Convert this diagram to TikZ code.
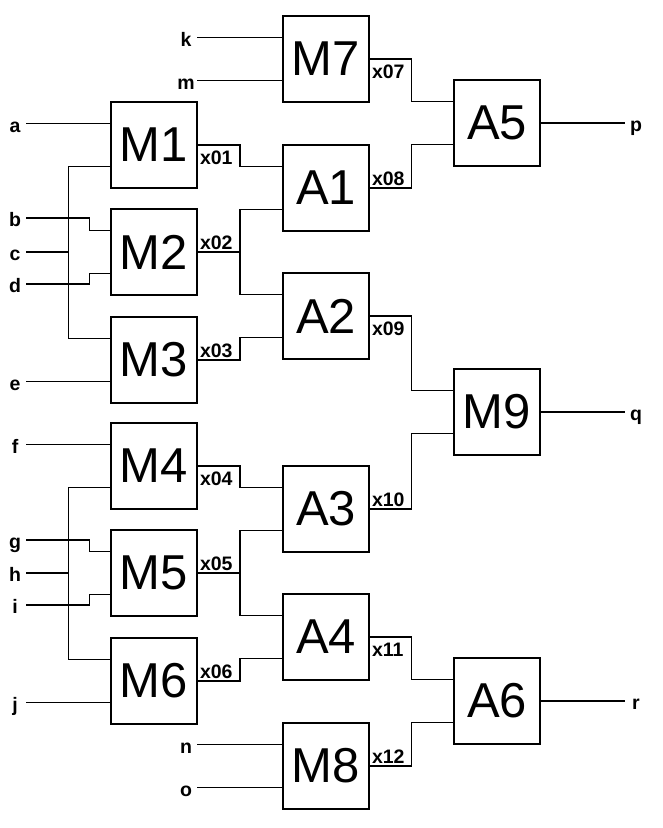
\documentclass[tikz,border=0pt]{standalone}
\usepackage{fontspec}
\setmainfont{Liberation Sans}
\newfontfamily\labfont{Liberation Sans Bold}
\usetikzlibrary{calc}
\tikzset{
  box/.style={draw, line width=1.3pt, minimum width=86pt, minimum height=86pt, inner sep=0pt, outer sep=0pt, anchor=north west, font=\fontsize{49}{49}\selectfont},
  wire/.style={line width=1.3pt},
  inlab/.style={font=\labfont\fontsize{19.5}{20}\selectfont, minimum width=22pt, inner sep=0pt, outer sep=0pt, text height=17pt, text depth=0pt},
  xlab/.style={font=\labfont\fontsize{19.5}{20}\selectfont, inner sep=0pt, outer sep=0pt},
  below lab/.style={xlab, anchor=base west},
}
\begin{document}
\begin{tikzpicture}[x=1pt, y=-1pt]
\fill[white] (0,0) rectangle (663,828);
\useasboundingbox (0,0) rectangle (663,828);
% boxes
\node[box] (M1) at (111,102) {M1};
\node[box] (M2) at (111,209) {M2};
\node[box] (M3) at (111,317) {M3};
\node[box] (M4) at (111,423) {M4};
\node[box] (M5) at (111,530) {M5};
\node[box] (M6) at (111,638) {M6};
\node[box] (M7) at (283,16) {M7};
\node[box] (A1) at (283,145) {A1};
\node[box] (A2) at (283,273) {A2};
\node[box] (A3) at (283,466) {A3};
\node[box] (A4) at (283,594) {A4};
\node[box] (M8) at (283,723) {M8};
\node[box] (A5) at (454,80) {A5};
\node[box] (M9) at (454,369) {M9};
\node[box] (A6) at (454,658) {A6};
\foreach \n in {M1,M2,M3,M4,M5,M6,M7,M8,M9,A1,A2,A3,A4,A5,A6}{
  \coordinate (\n-i1) at ($(\n.north west)!.25!(\n.south west)$);
  \coordinate (\n-i2) at ($(\n.north west)!.75!(\n.south west)$);
}
% input labels
\node[inlab] (a) at (15,123.5) {a};
\node[inlab] (b) at (15,218) {b};
\node[inlab] (c) at (15,252) {c};
\node[inlab] (d) at (15,284) {d};
\node[inlab] (e) at (15,381.5) {e};
\node[inlab] (f) at (15,444.5) {f};
\node[inlab] (g) at (15,540) {g};
\node[inlab] (h) at (15,573) {h};
\node[inlab] (i) at (15,605) {i};
\node[inlab] (j) at (15,702.5) {j};
\node[inlab] (k) at (186,37.5) {k};
\node[inlab] (m) at (186,80.5) {m};
\node[inlab] (n) at (186,744.5) {n};
\node[inlab] (o) at (186,787.5) {o};
\node[inlab] (p) at (636,123) {p};
\node[inlab] (q) at (636,412) {q};
\node[inlab] (r) at (636,701) {r};
% left group 1
\draw[wire] (a.east) -- (M1-i1);
\draw[wire] (M1-i2) -| ($(c.east)!.5!(M2.west)$) |- (M3-i1);
\draw[wire] (b.east) -| ($(b.east)!.75!(M2-i1)$) |- (M2-i1);
\draw[wire] (c.east) -- ($(c.east)!.5!(M2.west)$);
\draw[wire] (d.east) -| ($(d.east)!.75!(M2-i2)$) |- (M2-i2);
\draw[wire] (e.east) -- (M3-i2);
% left group 2
\draw[wire] (f.east) -- (M4-i1);
\draw[wire] (M4-i2) -| ($(h.east)!.5!(M5.west)$) |- (M6-i1);
\draw[wire] (g.east) -| ($(g.east)!.75!(M5-i1)$) |- (M5-i1);
\draw[wire] (h.east) -- ($(h.east)!.5!(M5.west)$);
\draw[wire] (i.east) -| ($(i.east)!.75!(M5-i2)$) |- (M5-i2);
\draw[wire] (j.east) -- (M6-i2);
% M7, M8 inputs
\draw[wire] (k.east) -- (M7-i1);
\draw[wire] (m.east) -- (M7-i2);
\draw[wire] (n.east) -- (M8-i1);
\draw[wire] (o.east) -- (M8-i2);
% first to second column
\draw[wire] (M1.east) -| ($(M1.east)!.5!(A1-i1)$) |- (A1-i1);
\draw[wire] (M2.east) -| ($(M2.east)!.5!(A1-i2)$) |- (A1-i2);
\draw[wire] (M2.east) -| ($(M2.east)!.5!(A2-i1)$) |- (A2-i1);
\draw[wire] (M3.east) -| ($(M3.east)!.5!(A2-i2)$) |- (A2-i2);
\draw[wire] (M4.east) -| ($(M4.east)!.5!(A3-i1)$) |- (A3-i1);
\draw[wire] (M5.east) -| ($(M5.east)!.5!(A3-i2)$) |- (A3-i2);
\draw[wire] (M5.east) -| ($(M5.east)!.5!(A4-i1)$) |- (A4-i1);
\draw[wire] (M6.east) -| ($(M6.east)!.5!(A4-i2)$) |- (A4-i2);
% second to third column
\draw[wire] (M7.east) -| ($(M7.east)!.5!(A5-i1)$) |- (A5-i1);
\draw[wire] (A1.east) -| ($(A1.east)!.5!(A5-i2)$) |- (A5-i2);
\draw[wire] (A2.east) -| ($(A2.east)!.5!(M9-i1)$) |- (M9-i1);
\draw[wire] (A3.east) -| ($(A3.east)!.5!(M9-i2)$) |- (M9-i2);
\draw[wire] (A4.east) -| ($(A4.east)!.5!(A6-i1)$) |- (A6-i1);
\draw[wire] (M8.east) -| ($(M8.east)!.5!(A6-i2)$) |- (A6-i2);
% outputs
\draw[wire] (A5.east) -- (p.west);
\draw[wire] (M9.east) -- (q.west);
\draw[wire] (A6.east) -- (r.west);
% signal labels
\node[below lab] (l01) at ($(M1.east)+(3,19)$) {x01};
\node[below lab] (l02) at ($(M2.east)+(3,-3)$) {x02};
\node[below lab] (l03) at ($(M3.east)+(3,-3)$) {x03};
\node[below lab] (l04) at ($(M4.east)+(3,19)$) {x04};
\node[below lab] (l05) at ($(M5.east)+(3,-3)$) {x05};
\node[below lab] (l06) at ($(M6.east)+(3,-3)$) {x06};
\node[below lab] (l07) at ($(M7.east)+(3,19)$) {x07};
\node[below lab] (l08) at ($(A1.east)+(3,-3)$) {x08};
\node[below lab] (l09) at ($(A2.east)+(3,19)$) {x09};
\node[below lab] (l10) at ($(A3.east)+(3,-3)$) {x10};
\node[below lab] (l11) at ($(A4.east)+(3,19)$) {x11};
\node[below lab] (l12) at ($(M8.east)+(3,-3)$) {x12};
\end{tikzpicture}
\end{document}
